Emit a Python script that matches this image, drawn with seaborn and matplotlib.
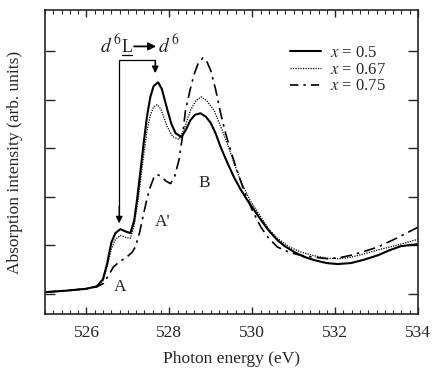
import numpy as np
import pandas as pd
import matplotlib
matplotlib.use('Agg')
import matplotlib.pyplot as plt
import seaborn as sns

# values (photon energy in eV, intensity in arb. units)
e_05 = [525.0, 525.5, 526.0, 526.25, 526.4, 526.5, 526.6, 526.7, 526.82, 526.95, 527.06,
        527.15, 527.22, 527.3, 527.38, 527.46, 527.54, 527.62, 527.73, 527.82, 527.95,
        528.05, 528.15, 528.29, 528.4, 528.51, 528.62, 528.75, 528.88, 529.0, 529.12,
        529.24, 529.4, 529.56, 529.72, 529.88, 530.05, 530.21, 530.4, 530.61, 530.8,
        531.01, 531.25, 531.5, 531.8, 532.06, 532.38, 532.7, 533.03, 533.3, 533.59, 534.0]
i_05 = [0.03, 0.06, 0.10, 0.15, 0.30, 0.62, 1.05, 1.25, 1.33, 1.28, 1.25,
        1.50, 1.93, 2.50, 3.10, 3.65, 4.05, 4.28, 4.36, 4.22, 3.80,
        3.50, 3.31, 3.23, 3.38, 3.58, 3.69, 3.72, 3.65, 3.52, 3.30,
        3.02, 2.70, 2.40, 2.15, 1.93, 1.72, 1.52, 1.30, 1.10, 0.97,
        0.86, 0.76, 0.69, 0.63, 0.61, 0.63, 0.70, 0.79, 0.89, 0.98, 1.02]

e_067 = [525.0, 525.5, 526.0, 526.25, 526.4, 526.5, 526.6, 526.7, 526.82, 526.95, 527.06,
         527.15, 527.25, 527.38, 527.46, 527.54, 527.62, 527.71, 527.8, 527.95, 528.08,
         528.23, 528.35, 528.51, 528.64, 528.77, 528.9, 529.08, 529.24, 529.4, 529.56,
         529.72, 529.95, 530.21, 530.4, 530.61, 530.9, 531.17, 531.5, 531.81, 532.1,
         532.38, 532.7, 533.03, 533.5, 534.0]
i_067 = [0.03, 0.06, 0.10, 0.15, 0.27, 0.55, 0.92, 1.12, 1.20, 1.16, 1.14,
         1.40, 1.95, 2.85, 3.35, 3.68, 3.85, 3.90, 3.80, 3.44, 3.24,
         3.18, 3.38, 3.78, 3.98, 4.06, 3.98, 3.78, 3.45, 3.09, 2.70,
         2.33, 1.92, 1.58, 1.33, 1.14, 0.96, 0.86, 0.78, 0.73, 0.72,
         0.75, 0.82, 0.90, 1.00, 1.12]

e_075 = [525.0, 525.5, 526.0, 526.25, 526.41, 526.55, 526.65, 526.8, 526.98, 527.1, 527.18,
         527.28, 527.38, 527.46, 527.54, 527.62, 527.7, 527.8, 527.92, 528.03, 528.13,
         528.23, 528.31, 528.39, 528.5, 528.6, 528.7, 528.81, 528.9, 529.0, 529.12,
         529.24, 529.36, 529.48, 529.64, 529.8, 530.0, 530.21, 530.4, 530.61, 530.9,
         531.17, 531.5, 531.81, 532.1, 532.38, 532.7, 533.03, 533.5, 534.0]
i_075 = [0.03, 0.06, 0.10, 0.14, 0.21, 0.40, 0.55, 0.66, 0.76, 0.85, 0.96,
         1.25, 1.65, 1.95, 2.20, 2.38, 2.46, 2.42, 2.32, 2.27, 2.42,
         2.75, 3.20, 3.78, 4.20, 4.53, 4.76, 4.86, 4.80, 4.60, 4.20,
         3.71, 3.30, 2.95, 2.52, 2.13, 1.72, 1.37, 1.14, 0.96, 0.85,
         0.79, 0.75, 0.72, 0.74, 0.79, 0.87, 0.96, 1.15, 1.37]

labels = ['$x$ = 0.5', '$x$ = 0.67', '$x$ = 0.75']
xticks = [526, 528, 530, 532, 534]

#%%
sns.set_style('ticks')
plt.rcParams['font.family'] = 'serif'
plt.rcParams['font.serif'] = ['Liberation Serif', 'DejaVu Serif']
plt.rcParams['mathtext.fontset'] = 'stix'

fig = plt.figure(figsize=(4.36, 3.72), dpi=100)
ax = fig.add_axes([0.1032, 0.156, 0.8555, 0.817])

df = pd.concat([
    pd.DataFrame({'E': e_05, 'I': i_05, 'x': labels[0]}),
    pd.DataFrame({'E': e_067, 'I': i_067, 'x': labels[1]}),
    pd.DataFrame({'E': e_075, 'I': i_075, 'x': labels[2]}),
])
dash_list = ['', (1, 1), (7, 3, 1.5, 3)]
sns.lineplot(data=df, x='E', y='I', hue='x', style='x', dashes=dict(zip(labels, dash_list)),
             palette=['black'] * 3, sort=False, estimator=None, ax=ax, legend=False)
widths = [1.5, 0.9, 1.2]
for line, lw in zip(ax.lines, widths):
    line.set_linewidth(lw)

handles = [plt.Line2D([], [], color='black', lw=widths[0], linestyle='-'),
           plt.Line2D([], [], color='black', lw=widths[1], linestyle=(0, (1, 1))),
           plt.Line2D([], [], color='black', lw=widths[2], linestyle=(0, (5, 3, 1.5, 3)))]
ax.legend(handles, labels, loc='upper right', bbox_to_anchor=(0.955, 0.935),
          frameon=False, fontsize=12, handlelength=1.85, handletextpad=0.55,
          labelspacing=0.05)

ax.set_xlim(525, 534)
ax.set_ylim(-0.42, 5.85)
ax.set_xticks(xticks)
ax.set_xticks(np.arange(525, 534.01, 0.2), minor=True)
ax.set_yticks(range(0, 6))
ax.set_yticklabels([])
ax.tick_params(axis='x', which='major', direction='in', length=5, width=1,
               top=True, labelsize=12.5, pad=8)
ax.tick_params(axis='x', which='minor', direction='in', length=3, width=0.8, top=True)
ax.tick_params(axis='y', which='major', direction='in', length=7, width=1, right=True)
for s in ax.spines.values():
    s.set_linewidth(1.2)
ax.set_xlabel('Photon energy (eV)', fontsize=12.5, labelpad=7)
ax.set_ylabel('Absorption intensity (arb. units)', fontsize=12.5, labelpad=12)

# d6L -> d6 annotation
ax.text(526.33, 4.98, r'$d^{\,6}$', fontsize=14, ha='left', va='baseline')
ax.text(526.98, 4.98, 'L', fontsize=13, ha='center', va='baseline')
ax.plot([526.86, 527.10], [4.93, 4.93], color='black', lw=0.9)
ax.text(527.73, 4.98, r'$d^{\,6}$', fontsize=14, ha='left', va='baseline')
ax.annotate('', xy=(527.68, 5.10), xytext=(527.15, 5.10),
            arrowprops=dict(arrowstyle='-|>', color='black', lw=1.3, mutation_scale=11,
                            shrinkA=0, shrinkB=0))
ax.plot([526.79, 526.79, 527.66, 527.66], [1.6, 4.81, 4.81, 4.6], color='black', lw=0.9)
ax.annotate('', xy=(526.79, 1.45), xytext=(526.79, 1.8),
            arrowprops=dict(arrowstyle='-|>', color='black', lw=0.9, mutation_scale=10,
                            shrinkA=0, shrinkB=0))
ax.annotate('', xy=(527.66, 4.55), xytext=(527.66, 4.81),
            arrowprops=dict(arrowstyle='-|>', color='black', lw=0.9, mutation_scale=10,
                            shrinkA=0, shrinkB=0))

ax.text(526.81, 0.13, 'A', fontsize=12.5, ha='center', va='center')
ax.text(527.85, 1.47, "A'", fontsize=12.5, ha='center', va='center')
ax.text(528.84, 2.28, 'B', fontsize=12.5, ha='center', va='center')

fig.savefig('out.png', dpi=100)
